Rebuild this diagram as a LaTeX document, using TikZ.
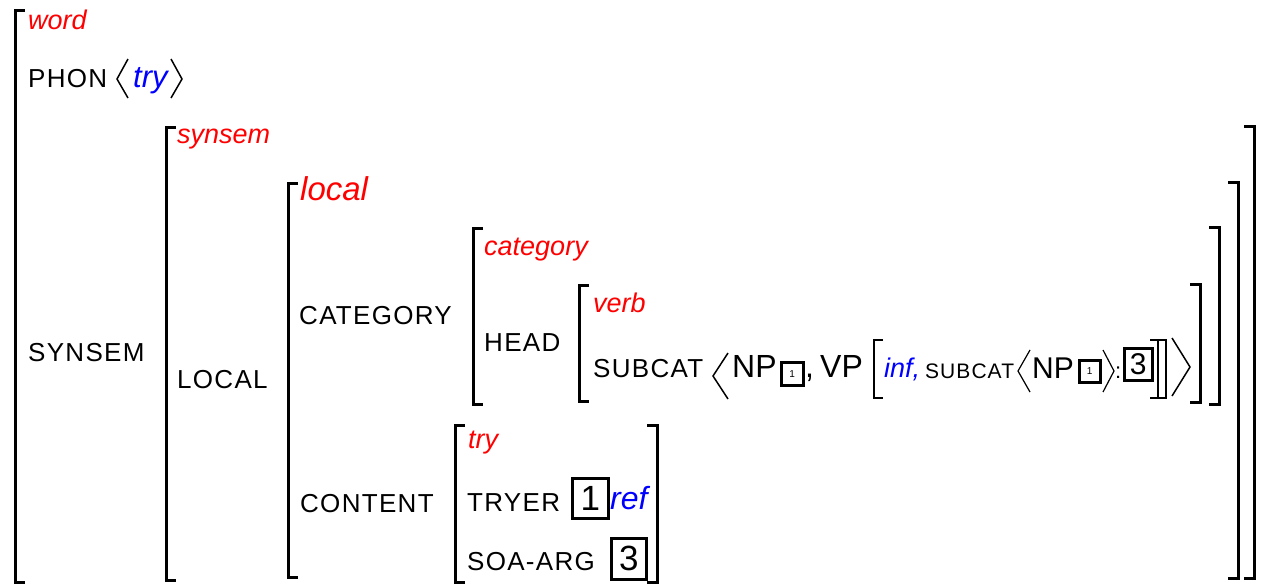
\documentclass[tikz,border=0pt]{standalone}
\usepackage{fontspec}
\setmainfont{Liberation Sans}
\newfontfamily\featfont[LetterSpace=5]{Liberation Sans}
\usetikzlibrary{positioning}

\tikzset{
  attr/.style={anchor=base west, inner sep=0pt, font=\featfont\fontsize{26}{30}\selectfont},
  type/.style={anchor=base west, inner sep=0pt, red, font=\itshape\fontsize{27}{30}\selectfont},
  val/.style={anchor=base west, inner sep=0pt, blue, font=\itshape\fontsize{31}{34}\selectfont},
  big/.style={anchor=base west, inner sep=0pt, font=\fontsize{32}{34}\selectfont},
  brk/.style={line width=3pt},
  ang/.style={line width=1.5pt},
  tagbox/.style={draw, line width=2.5pt, inner sep=0pt, anchor=north west}
}

\begin{document}
\begin{tikzpicture}[x=1pt, y=-1pt]
  \useasboundingbox (0,0) rectangle (1263,584);

	%left brackets  x/top/bottom
    \foreach \x/\t/\b in {15/10/582, 166/127/580, 288/183/577, 473/228/404, 579/285/401, 455/425/582}{
         \draw[brk] (\x+10,\t) -- (\x,\t) -- (\x,\b) -- (\x+10,\b);
    }
	%right brackets
    \foreach \x/\t/\b in {1254/126/578, 1238/182/578, 1219/227/404, 1200/284/402, 657/425/582}{
         \draw[brk] (\x-10,\t) -- (\x,\t) -- (\x,\b) -- (\x-10,\b);
    }

	%types
    \foreach \name/\x/\y/\txt in {tword/28/29/word, tsynsem/177/143/synsem, tcat/484/255/category, tverb/593/312/verb, ttry/468/448/try}{
         \node[type] (\name) at (\x,\y) {\txt};
    }
    \node[type, font=\itshape\fontsize{33}{36}\selectfont] (tlocal) at (300,200) {local};

	%features
    \foreach \name/\x/\y/\txt in {phon/28/87/PHON, synsem/28/361/SYNSEM, local/177/388/LOCAL, cat/299/324/CATEGORY, head/484/351/HEAD, content/300/512/CONTENT, tryer/467/511/TRYER, soa/467/570/SOA-ARG}{
         \node[attr] (\name) at (\x,\y) {\txt};
    }

	%phon value
    \draw[ang] (128,59) -- (117,79) -- (128,98);
    \node[val] (vtry) at (133,87) {try};
    \draw[ang] (171,59) -- (182,79) -- (171,98);

	%content values
    \node[tagbox, minimum width=36pt, minimum height=40pt] (tagA) at (571,477) {\fontsize{35}{35}\selectfont 1};
    \node[val, font=\itshape\fontsize{32}{34}\selectfont] (vref) at (610,509) {ref};
    \node[tagbox, minimum width=35pt, minimum height=41pt] (tagB) at (610,537) {\fontsize{35}{35}\selectfont 3};

	%subcat list
    \node[attr] (subcat) at (593,377) {SUBCAT};
    \draw[ang] (728,353) -- (713,376) -- (728,399);
    \node[big] (np) at (732,377) {NP};
    \node[tagbox, minimum width=22pt, minimum height=23pt] (tagC) at (780,361) {\fontsize{10}{10}\selectfont 1};
    \node[big] (comma) at (805,377) {,};
    \node[big] (vp) at (820,377) {VP};
    \draw[line width=2.5pt] (883,340) -- (874,340) -- (874,398) -- (883,398);
    \node[val, font=\itshape\fontsize{27}{30}\selectfont] (vinf) at (884,377) {inf,};
    \node[attr, font=\featfont\fontsize{21}{24}\selectfont] (subcatb) at (925,378) {SUBCAT};
    \draw[ang, line width=1.2pt] (1030,350) -- (1018,371) -- (1030,392);
    \node[big, font=\fontsize{30}{32}\selectfont] (npb) at (1032,378) {NP};
    \node[tagbox, minimum width=21pt, minimum height=22pt] (tagD) at (1078,359) {\fontsize{10}{10}\selectfont 1};
    \draw[ang, line width=1.2pt] (1103,350) -- (1114,371) -- (1103,392);
    \node[big, font=\fontsize{22}{24}\selectfont] (colon) at (1115,378) {:};
    \node[tagbox, minimum width=28pt, minimum height=32pt] (tagE) at (1123,347) {\fontsize{30}{30}\selectfont 3};
    \foreach \x in {1158,1166}{
         \draw[line width=2.5pt] (\x-8,340) -- (\x,340) -- (\x,398) -- (\x-8,398);
    }
    \draw[ang] (1172,338) -- (1190,367) -- (1172,396);

\end{tikzpicture}
\end{document}
